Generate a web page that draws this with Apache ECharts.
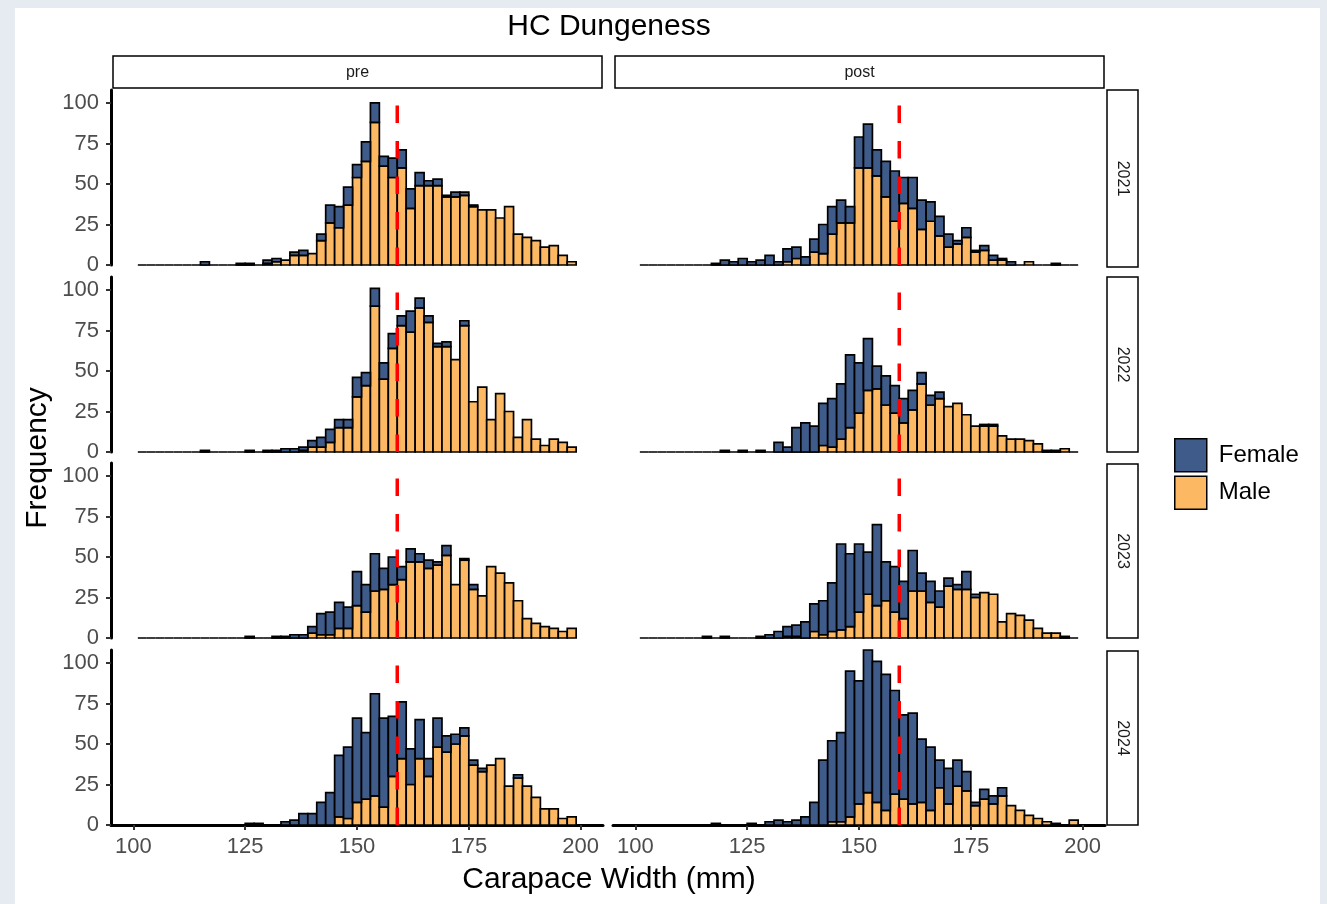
<!DOCTYPE html>
<html><head><meta charset="utf-8">
<script src="https://cdn.jsdelivr.net/npm/echarts@6/dist/echarts.min.js"></script>
<style>
html,body{margin:0;padding:0;width:1327px;height:904px;overflow:hidden;background:#e6ebf1;}
#bgwhite{position:absolute;left:15px;top:8px;width:1305px;height:896px;background:#fff;}
#chart{position:absolute;left:0;top:0;width:1327px;height:904px;}
</style></head><body>
<div id="bgwhite"></div>
<div id="chart"></div>
<script>
// ---------- data ----------
const binCenters = [102,104,106,108,110,112,114,116,118,
  120,122,124,126,128,130,132,134,136,138,
  140,142,144,146,148,150,152,154,156,158,
  160,162,164,166,168,170,172,174,176,178,
  180,182,184,186,188,190,192,194,196,198];
const binWidth = 2;
const xTicks = [100,125,150,175,200];
const yTicks = [0,25,50,75,100];
const years = ['2021','2022','2023','2024'];
const periods = ['pre','post'];
const legalSize = 159;
const yMax = 108;

const pre2021Male = [0,0,0,0,0,0,0,0,0,
  0,0,0,0,0,1,2,3,6,6,
  7,15,26,23,37,54,64,88,61,54,
  60,35,49,49,49,42,42,43,36,34,
  34,29,36,19,17,15,11,12,6,2];
const pre2021Female = [0,0,0,0,0,0,0,2,0,
  0,0,1,1,0,2,2,0,2,3,
  0,4,11,13,11,8,12,12,6,12,
  11,12,8,3,4,1,3,2,1,0,
  0,0,0,0,0,0,0,0,0,0];
const post2021Male = [0,0,0,0,0,0,0,0,0,
  0,0,0,0,0,0,0,2,4,0,
  8,7,19,26,26,60,60,55,42,27,
  38,35,22,27,18,11,13,17,8,9,
  3,3,0,0,2,0,0,0,0,0];
const post2021Female = [0,0,0,0,0,0,0,0,1,
  3,2,4,2,3,6,2,8,7,5,
  8,18,17,14,10,19,27,16,22,31,
  16,19,18,12,12,8,2,6,1,3,
  3,1,2,0,0,0,0,1,0,0];
const pre2022Male = [0,0,0,0,0,0,0,0,0,
  0,0,0,0,0,0,0,0,0,1,
  3,3,6,15,15,34,41,90,45,64,
  78,74,89,80,65,65,57,78,31,40,
  20,36,25,9,20,8,4,8,6,3];
const pre2022Female = [0,0,0,0,0,0,0,1,0,
  0,0,0,1,0,1,1,2,2,2,
  4,6,8,5,5,12,8,11,10,9,
  6,13,6,4,2,3,0,3,0,0,
  0,0,0,0,0,0,0,0,0,0];
const post2022Male = [0,0,0,0,0,0,0,0,0,
  0,0,0,0,0,0,0,0,0,0,
  0,4,3,8,15,24,38,39,29,24,
  18,26,42,29,33,28,30,23,16,16,
  16,10,8,8,7,5,0,0,2,0];
const post2022Female = [0,0,0,0,0,0,0,0,0,
  1,0,1,0,1,0,6,3,15,18,
  16,26,30,34,45,31,32,14,18,17,
  15,12,7,6,4,0,0,0,0,1,
  1,0,0,0,0,0,1,1,0,0];
const pre2023Male = [0,0,0,0,0,0,0,0,0,
  0,0,0,0,0,0,0,0,0,0,
  3,2,2,6,6,20,16,29,30,33,
  36,47,47,43,45,51,33,48,30,26,
  44,40,34,23,12,9,7,6,4,6];
const pre2023Female = [0,0,0,0,0,0,0,0,0,
  0,0,0,1,0,0,1,1,2,2,
  4,13,14,16,13,21,17,23,13,17,
  8,8,5,5,2,6,0,1,3,0,
  0,0,0,0,0,0,0,0,0,0];
const post2023Male = [0,0,0,0,0,0,0,0,0,
  0,0,0,0,0,0,0,1,1,0,
  4,2,4,5,7,16,27,20,23,16,
  12,29,29,22,19,32,30,30,25,28,
  27,10,15,14,11,6,3,3,0,0];
const post2023Female = [0,0,0,0,0,0,0,1,0,
  1,0,0,0,1,2,4,6,7,10,
  17,21,30,53,45,42,26,50,24,28,
  23,25,11,13,10,5,3,11,2,0,
  0,0,0,0,0,0,0,0,1,0];
const pre2024Male = [0,0,0,0,0,0,0,0,0,
  0,0,0,0,0,0,0,0,0,0,
  0,0,0,5,4,14,16,18,11,30,
  41,25,41,30,48,45,50,55,37,33,
  37,41,24,29,24,17,10,10,4,5];
const pre2024Female = [0,0,0,0,0,0,0,0,0,
  0,0,0,1,1,0,0,2,3,7,
  7,14,20,38,44,52,41,63,55,37,
  35,22,24,11,18,10,6,5,3,2,
  0,0,0,2,0,0,0,0,0,0];
const post2024Male = [0,0,0,0,0,0,0,0,0,
  0,0,0,0,0,0,0,0,0,0,
  0,0,2,2,5,13,20,14,9,19,
  16,13,14,9,23,13,24,21,12,16,
  13,18,12,9,6,4,2,1,0,3];
const post2024Female = [0,0,0,0,0,0,0,0,1,
  0,0,0,1,0,2,3,2,3,5,
  14,40,50,55,90,76,88,87,84,64,
  52,56,39,39,17,22,16,12,2,6,
  5,5,0,0,0,0,0,0,0,0];

const panelMale = {
  pre: [pre2021Male, pre2022Male, pre2023Male, pre2024Male],
  post: [post2021Male, post2022Male, post2023Male, post2024Male]
};
const panelFemale = {
  pre: [pre2021Female, pre2022Female, pre2023Female, pre2024Female],
  post: [post2021Female, post2022Female, post2023Female, post2024Female]
};

// ---------- style / layout ----------
const FEMALE = '#3E5B89';
const MALE = '#FDB863';
const FONT = '"Liberation Sans", Arial, Helvetica, sans-serif';
const gridLeft = [111, 613];
const gridTop = [90, 277, 463, 650];
const gridW = 492, gridH = 175;

function rectItem(api, c, lo, hi, color) {
  const a = api.coord([c - binWidth / 2, lo]);
  const b = api.coord([c + binWidth / 2, hi]);
  return {
    type: 'rect',
    shape: { x: a[0], y: b[1], width: b[0] - a[0], height: a[1] - b[1] },
    style: { fill: color, stroke: '#000', lineWidth: 1.7 }
  };
}

const grids = [], xAxes = [], yAxes = [], series = [];
for (let r = 0; r < 4; r++) {
  for (let k = 0; k < 2; k++) {
    const idx = r * 2 + k;
    grids.push({ left: gridLeft[k], top: gridTop[r], width: gridW, height: gridH });
    const bottom = r === 3, leftCol = k === 0;
    xAxes.push({
      gridIndex: idx, type: 'value', min: 95, max: 205,
      axisLine: { show: bottom, onZero: false, lineStyle: { color: '#000', width: 3 } },
      axisTick: { show: bottom, customValues: xTicks, length: 5, lineStyle: { color: '#333', width: 2 } },
      axisLabel: { show: bottom, customValues: xTicks, margin: 11, fontSize: 22, color: '#4d4d4d', fontFamily: FONT },
      splitLine: { show: false }
    });
    yAxes.push({
      gridIndex: idx, type: 'value', min: 0, max: yMax,
      axisLine: { show: leftCol, onZero: false, lineStyle: { color: '#000', width: 3 } },
      axisTick: { show: leftCol, customValues: yTicks, length: 5, lineStyle: { color: '#333', width: 2 } },
      axisLabel: { show: leftCol, customValues: yTicks, margin: 12, fontSize: 22, color: '#4d4d4d', fontFamily: FONT },
      splitLine: { show: false }
    });
    const p = periods[k];
    const m = panelMale[p][r], f = panelFemale[p][r];
    const data = binCenters.map((c, i) => [c, m[i], f[i]]);
    series.push({
      name: 'Male', type: 'custom', xAxisIndex: idx, yAxisIndex: idx,
      itemStyle: { color: MALE }, encode: { x: 0, y: 1 }, data: data, z: 2,
      renderItem: function (params, api) {
        return rectItem(api, api.value(0), 0, api.value(1), MALE);
      }
    });
    series.push({
      name: 'Female', type: 'custom', xAxisIndex: idx, yAxisIndex: idx,
      itemStyle: { color: FEMALE }, encode: { x: 0, y: 2 }, data: data, z: 3,
      renderItem: function (params, api) {
        const mv = api.value(1), fv = api.value(2);
        if (!(fv > 0)) return null;
        return rectItem(api, api.value(0), mv, mv + fv, FEMALE);
      }
    });
    series.push({
      type: 'line', xAxisIndex: idx, yAxisIndex: idx, silent: true, z: 5,
      data: [[legalSize, 0], [legalSize, yMax]], symbol: 'none',
      lineStyle: { color: '#ff0000', width: 3.5, type: [17.5, 18] }
    });
  }
}

const graphic = [];
// top strips
const stripX = [113, 615];
periods.forEach((p, k) => {
  graphic.push({ type: 'rect', shape: { x: stripX[k], y: 56, width: 489, height: 32 },
    style: { fill: '#fff', stroke: '#000', lineWidth: 1.5 } });
  graphic.push({ type: 'text', x: stripX[k] + 244.5, y: 73,
    style: { text: p, fill: '#1a1a1a', fontSize: 16, fontFamily: FONT, align: 'center', verticalAlign: 'middle' } });
});
// right strips
const rStripY = [90, 277, 464, 651];
const rStripH = [177, 175, 174, 174];
years.forEach((yr, r) => {
  graphic.push({ type: 'rect', shape: { x: 1107, y: rStripY[r], width: 31, height: rStripH[r] },
    style: { fill: '#fff', stroke: '#000', lineWidth: 1.5 } });
  graphic.push({ type: 'text', x: 1122.5, y: rStripY[r] + rStripH[r] / 2, rotation: -Math.PI / 2,
    style: { text: yr, fill: '#1a1a1a', fontSize: 16, fontFamily: FONT, align: 'center', verticalAlign: 'middle' } });
});
// titles
graphic.push({ type: 'text', x: 609, y: 27,
  style: { text: 'HC Dungeness', fill: '#000', fontSize: 30, fontFamily: FONT, align: 'center', verticalAlign: 'middle' } });
graphic.push({ type: 'text', x: 609, y: 880,
  style: { text: 'Carapace Width (mm)', fill: '#000', fontSize: 30, fontFamily: FONT, align: 'center', verticalAlign: 'middle' } });
graphic.push({ type: 'text', x: 38, y: 458, rotation: Math.PI / 2,
  style: { text: 'Frequency', fill: '#000', fontSize: 30, fontFamily: FONT, align: 'center', verticalAlign: 'middle' } });

const chart = echarts.init(document.getElementById('chart'), null, { renderer: 'canvas' });
chart.setOption({
  animation: false,
  backgroundColor: 'transparent',
  grid: grids, xAxis: xAxes, yAxis: yAxes, series: series,
  legend: {
    orient: 'vertical', left: 1174, top: 438, padding: 0, itemWidth: 32, itemHeight: 33, itemGap: 3,
    icon: 'rect', selectedMode: false,
    textStyle: { fontSize: 24, color: '#000', fontFamily: FONT, padding: [0, 0, 0, 7] },
    data: [
      { name: 'Female', itemStyle: { color: FEMALE, borderColor: '#000', borderWidth: 1.5 } },
      { name: 'Male', itemStyle: { color: MALE, borderColor: '#000', borderWidth: 1.5 } }
    ]
  },
  graphic: graphic
});
</script>
</body></html>
